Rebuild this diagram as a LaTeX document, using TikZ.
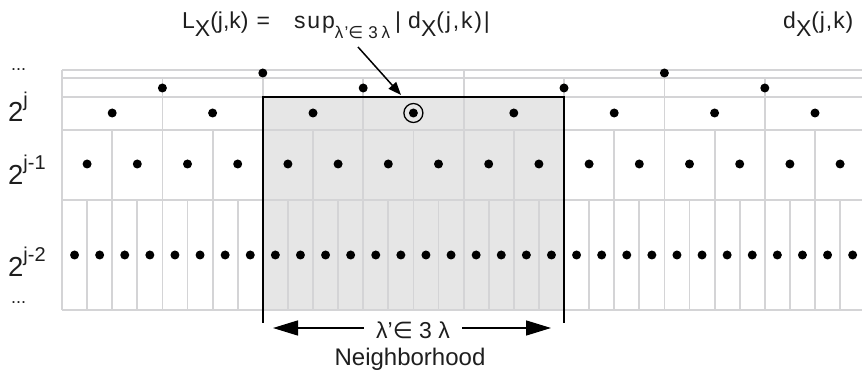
\documentclass[tikz,border=0pt]{standalone}
\usepackage{fontspec}
\setmainfont{Liberation Sans}
\newfontfamily\dvs{DejaVu Sans}
\newfontfamily\spacedA[LetterSpace=8]{Liberation Sans}
\newfontfamily\spacedB[LetterSpace=4]{Liberation Sans}
\usetikzlibrary{arrows.meta}
\definecolor{gridgray}{RGB}{212,212,214}
\definecolor{shadegray}{RGB}{230,230,230}
\definecolor{inkgray}{RGB}{30,30,30}
\newcommand{\lowX}{\raisebox{-8pt}{X}}
\newcommand{\smallsub}[1]{\raisebox{-10pt}{\fontsize{17}{17}\selectfont #1}}
\newcommand{\supj}[1]{\raisebox{15pt}{\fontsize{20}{20}\selectfont #1}}
\begin{document}
\begin{tikzpicture}[x=1pt,y=-1pt,
  gridline/.style={draw=gridgray,line width=1.8pt},
  dotnode/.style={circle,fill=black,inner sep=0pt,minimum size=9pt},
  boxline/.style={draw=black,line width=2.2pt},
  arr/.style={draw=black,line width=1.5pt},
  lvl/.style={anchor=base west,inner sep=0pt,text=inkgray,font=\fontsize{27.5}{27.5}\selectfont},
  txt/.style={inner sep=0pt,text=inkgray,font=\fontsize{23}{23}\selectfont},
  ell/.style={anchor=base west,inner sep=0pt,text=inkgray,font=\fontsize{18}{18}\selectfont}]
\useasboundingbox (0,0) rectangle (862,371);
% shaded neighbourhood
\fill[shadegray] (262.8,97) rectangle (564,310);
% grid
\foreach \k in {0,...,31} \draw[gridline] ({62+25.1*\k},200) -- ({62+25.1*\k},310);
\foreach \k in {0,...,15} \draw[gridline] ({62+50.2*\k},130) -- ({62+50.2*\k},200);
\foreach \k in {0,...,7} \draw[gridline] ({62+100.4*\k},78) -- ({62+100.4*\k},130);
\foreach \k in {0,...,3} \draw[gridline] ({62+200.8*\k},70) -- ({62+200.8*\k},78);
\foreach \y in {70,78,97,130,200,310} \draw[gridline] (62,\y) -- (862,\y);
% box
\draw[boxline] (262.8,323) -- (262.8,97) -- (564,97) -- (564,323);
% dots
\foreach \k in {0,...,31} \node[dotnode] (a\k) at ({74.55+25.1*\k},255) {};
\foreach \k in {0,...,15} \node[dotnode] (b\k) at ({87.1+50.2*\k},164) {};
\foreach \k in {0,...,7} \node[dotnode] (c\k) at ({112.2+100.4*\k},113) {};
\foreach \k in {0,...,3} \node[dotnode] (d\k) at ({162.4+200.8*\k},88) {};
\foreach \k in {0,...,1} \node[dotnode] (e\k) at ({262.8+401.6*\k},73) {};
\node[draw=black,circle,line width=1.3pt,minimum size=19pt,inner sep=0pt] (ring) at (c3) {};
% level labels
\node[ell] (l0) at (11,71) {...};
\node[lvl] (l1) at (8,122) {2\supj{j}};
\node[lvl] (l2) at (8,185) {2\supj{j-1}};
\node[lvl] (l3) at (8,277) {2\supj{j-2}};
\node[ell] (l4) at (11,304) {...};
% title
\node[txt,anchor=base west] (title) at (182,29) {L\lowX(j,k)\hspace{8pt}=\hspace{24pt}{\spacedA sup}\smallsub{\spacedA λ’{\dvs∈}\hspace{5pt}3\hspace{4pt}λ}\hspace{5pt}|\hspace{7pt}{\spacedA d\lowX(j,k)|}};
\node[txt,anchor=base west] (dlab) at (783,29) {\spacedB d\lowX(j,k)};
\coordinate (ps) at (358,47);
\coordinate (pe) at (401,95);
\draw[arr,-{Triangle[length=13pt,width=10pt]}] (ps) -- (pe);
% neighbourhood arrow
\node[txt,fill=white,inner xsep=12pt,inner ysep=2pt] (lam) at (413,330) {λ’{\dvs∈} 3 λ};
\coordinate (la) at (273,328);
\coordinate (ra) at (551,328);
\draw[arr,-{Triangle[length=25pt,width=15pt]}] (lam.west |- la) -- (la);
\draw[arr,-{Triangle[length=25pt,width=15pt]}] (lam.east |- ra) -- (ra);
\node[txt,anchor=base,font=\fontsize{24}{24}\selectfont] (nbh) at (410,365) {Neighborhood};
\end{tikzpicture}
\end{document}
